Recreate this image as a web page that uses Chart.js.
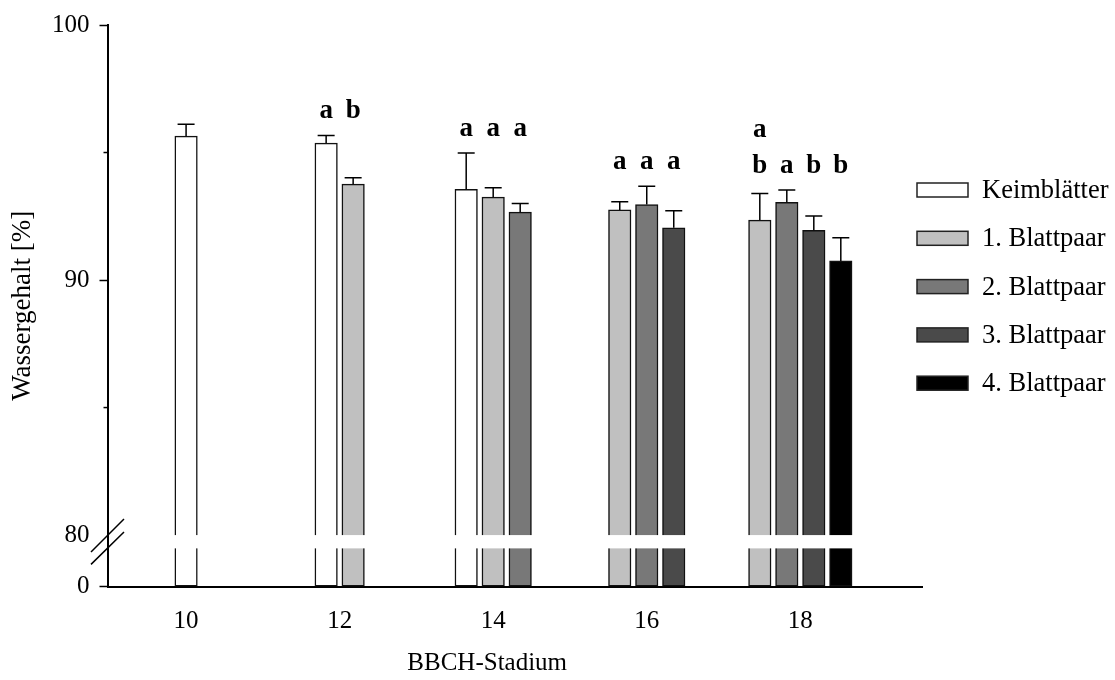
<!DOCTYPE html>
<html>
<head>
<meta charset="utf-8">
<script src="https://cdn.jsdelivr.net/npm/chart.js@4.4.0/dist/chart.umd.min.js"></script>
<style>
  html, body { margin: 0; padding: 0; background: #fff; }
  #wrap { width: 1115px; height: 680px; position: relative; }
</style>
</head>
<body>
<div id="wrap"><canvas id="c"></canvas></div>
<script>
// BBCH stages on the x axis
const stages = [10, 12, 14, 16, 18];

// Series names (leaf position)
const seriesNames = ['Keimblätter', '1. Blattpaar', '2. Blattpaar', '3. Blattpaar', '4. Blattpaar'];

// Mean water content [%] per stage
const keimblaetter = [95.64, 95.37, 93.56, null, null];
const blattpaar1   = [null, 93.76, 93.25, 92.75, 92.35];
const blattpaar2   = [null, null, 92.66, 92.96, 93.05];
const blattpaar3   = [null, null, null, 92.05, 91.95];
const blattpaar4   = [null, null, null, null, 90.75];

// Standard deviations (drawn upward only)
const keimblaetterSd = [0.47, 0.30, 1.42, null, null];
const blattpaar1Sd   = [null, 0.25, 0.37, 0.32, 1.04];
const blattpaar2Sd   = [null, null, 0.34, 0.72, 0.48];
const blattpaar3Sd   = [null, null, null, 0.67, 0.56];
const blattpaar4Sd   = [null, null, null, null, 0.91];

// Significance letters (stacked top to bottom when more than one)
const keimblaetterLetters = ['', 'a', 'a', '', ''];
const blattpaar1Letters   = ['', 'b', 'a', 'a', 'ab'];
const blattpaar2Letters   = ['', '', 'a', 'a', 'a'];
const blattpaar3Letters   = ['', '', '', 'a', 'b'];
const blattpaar4Letters   = ['', '', '', '', 'b'];

// Y axis ticks (broken axis: 0 | 80 ... 100)
const yTickValues = [0, 80, 85, 90, 95, 100];
const yTickLabels = ['0', '80', '', '90', '', '100'];
const yMinorTicks = [85, 95];

const FONT = '"Liberation Serif", "Times New Roman", Times, serif';
Chart.defaults.font.family = FONT;
Chart.defaults.font.size = 25;
Chart.defaults.color = '#000';

// Linear scale with a compressed segment below the break value
const BREAK_VALUE = 80;
const LOWER_SHARE = 0.0919;
class BrokenLinearScale extends Chart.LinearScale {
  static id = 'brokenLinear';
  toDecimal(v) {
    if (v <= BREAK_VALUE) return (v - this.min) / (BREAK_VALUE - this.min) * LOWER_SHARE;
    return LOWER_SHARE + (v - BREAK_VALUE) / (this.max - BREAK_VALUE) * (1 - LOWER_SHARE);
  }
  getPixelForValue(v) {
    if (v === null || v === undefined || isNaN(v)) return NaN;
    return this.getPixelForDecimal(this.toDecimal(v));
  }
  getValueForPixel(p) {
    const d = this.getDecimalForPixel(p);
    if (d <= LOWER_SHARE) return this.min + d / LOWER_SHARE * (BREAK_VALUE - this.min);
    return BREAK_VALUE + (d - LOWER_SHARE) / (1 - LOWER_SHARE) * (this.max - BREAK_VALUE);
  }
}
Chart.register(BrokenLinearScale);

const fills = ['#ffffff', '#c0c0c0', '#787878', '#4a4a4a', '#000000'];
const means = [keimblaetter, blattpaar1, blattpaar2, blattpaar3, blattpaar4];
const sds = [keimblaetterSd, blattpaar1Sd, blattpaar2Sd, blattpaar3Sd, blattpaar4Sd];
const letters = [keimblaetterLetters, blattpaar1Letters, blattpaar2Letters, blattpaar3Letters, blattpaar4Letters];

const datasets = seriesNames.map((name, k) => ({
  label: name,
  data: means[k],
  sd: sds[k],
  letters: letters[k],
  backgroundColor: fills[k],
  borderColor: '#111',
  borderWidth: 1.5,
  borderSkipped: false,
  barThickness: 27,
  maxBarThickness: 22.5,
  skipNull: true
}));

// Upward error bars
const errorBars = {
  id: 'errorBars',
  afterDatasetsDraw(chart) {
    const ctx = chart.ctx, y = chart.scales.y;
    ctx.save();
    ctx.strokeStyle = '#000';
    ctx.lineWidth = 1.5;
    chart.data.datasets.forEach((ds, d) => {
      const meta = chart.getDatasetMeta(d);
      meta.data.forEach((el, i) => {
        const m = ds.data[i], s = ds.sd[i];
        if (m === null || s === null) return;
        const top = y.getPixelForValue(m + s);
        ctx.beginPath();
        ctx.moveTo(el.x, el.y);
        ctx.lineTo(el.x, top);
        ctx.moveTo(el.x - 8.5, top);
        ctx.lineTo(el.x + 8.5, top);
        ctx.stroke();
      });
    });
    // white band marking the break in the bars
    const yb = y.getPixelForValue(BREAK_VALUE);
    const a = chart.chartArea;
    ctx.fillStyle = '#fff';
    ctx.fillRect(a.left + 1.5, yb, a.right - a.left, 13.3);
    ctx.restore();
  }
};

// Significance letters above each group
const sigLetters = {
  id: 'sigLetters',
  afterDatasetsDraw(chart) {
    const ctx = chart.ctx, y = chart.scales.y;
    ctx.save();
    ctx.font = 'bold 27px ' + FONT;
    ctx.fillStyle = '#000';
    ctx.textAlign = 'center';
    ctx.textBaseline = 'alphabetic';
    stages.forEach((st, i) => {
      let groupTop = Infinity;
      chart.data.datasets.forEach(ds => {
        if (ds.data[i] !== null) groupTop = Math.min(groupTop, y.getPixelForValue(ds.data[i] + ds.sd[i]));
      });
      const base = groupTop - 17.5;
      chart.data.datasets.forEach((ds, d) => {
        const txt = ds.letters[i];
        if (!txt || ds.data[i] === null) return;
        const el = chart.getDatasetMeta(d).data[i];
        for (let k = 0; k < txt.length; k++) {
          const row = txt.length - 1 - k;
          ctx.fillText(txt[k], el.x, base - row * 36);
        }
      });
    });
    ctx.restore();
  }
};

// Axis break marks, minor ticks, legend and x title
const decorations = {
  id: 'decorations',
  afterDraw(chart) {
    const ctx = chart.ctx, y = chart.scales.y, x = chart.scales.x;
    const a = chart.chartArea;
    ctx.save();
    ctx.strokeStyle = '#000';
    ctx.lineWidth = 1.5;
    // minor ticks
    yMinorTicks.forEach(v => {
      const py = y.getPixelForValue(v);
      ctx.beginPath();
      ctx.moveTo(a.left - 4.5, py);
      ctx.lineTo(a.left, py);
      ctx.stroke();
    });
    // break slashes on the y axis
    const yb = y.getPixelForValue(BREAK_VALUE);
    ctx.beginPath();
    ctx.moveTo(a.left - 17, yb + 17);
    ctx.lineTo(a.left + 16, yb - 16);
    ctx.moveTo(a.left - 17, yb + 29.3);
    ctx.lineTo(a.left + 16, yb - 3);
    ctx.stroke();

    // legend
    ctx.font = '26.5px ' + FONT;
    ctx.textAlign = 'left';
    ctx.textBaseline = 'middle';
    chart.data.datasets.forEach((ds, k) => {
      const cy = 190 + k * 48.3;
      ctx.fillStyle = ds.backgroundColor;
      ctx.fillRect(917, cy - 7, 51, 14);
      ctx.strokeStyle = '#222';
      ctx.lineWidth = 1.5;
      ctx.strokeRect(917, cy - 7, 51, 14);
      ctx.fillStyle = '#000';
      ctx.fillText(ds.label, 982, cy + 1);
    });

    // x axis title
    ctx.font = '25px ' + FONT;
    ctx.textAlign = 'center';
    ctx.fillText('BBCH-Stadium', (x.getPixelForValue(stages[0]) + x.getPixelForValue(stages[stages.length - 1])) / 2 - 6, 663);
    ctx.restore();
  }
};

new Chart(document.getElementById('c'), {
  type: 'bar',
  data: { labels: stages, datasets },
  plugins: [errorBars, sigLetters, decorations],
  options: {
    responsive: true,
    maintainAspectRatio: false,
    animation: false,
    events: [],
    layout: { padding: { top: 21, right: 193, bottom: 0, left: 0 } },
    plugins: { legend: { display: false }, tooltip: { enabled: false } },
    scales: {
      x: {
        type: 'linear',
        min: 8.983,
        max: 19.585,
        offset: false,
        afterBuildTicks: s => { s.ticks = stages.map(v => ({ value: v })); },
        afterFit: s => { s.height = 93.3; },
        ticks: { autoSkip: false, maxRotation: 0, padding: 20, color: '#000', callback: v => String(v) },
        grid: { drawOnChartArea: false, drawTicks: false },
        border: { display: true, color: '#000', width: 2 }
      },
      y: {
        type: 'brokenLinear',
        min: 0,
        max: 100,
        afterBuildTicks: s => { s.ticks = yTickValues.map(v => ({ value: v })); },
        afterFit: s => { s.width = 108; },
        ticks: {
          autoSkip: false,
          padding: 10,
          color: '#000',
          callback: v => yTickLabels[yTickValues.indexOf(v)]
        },
        grid: {
          drawOnChartArea: false,
          drawTicks: true,
          tickLength: 8.5,
          tickWidth: 1.5,
          tickColor: c => (c.tick && (c.tick.value === 0 || c.tick.value === 90 || c.tick.value === 100)) ? '#000' : 'rgba(0,0,0,0)'
        },
        border: { display: true, color: '#000', width: 2 },
        title: { display: true, text: 'Wassergehalt [%]', color: '#000', font: { size: 27 }, padding: { top: 7, bottom: 0 } }
      }
    }
  }
});
</script>
</body>
</html>
